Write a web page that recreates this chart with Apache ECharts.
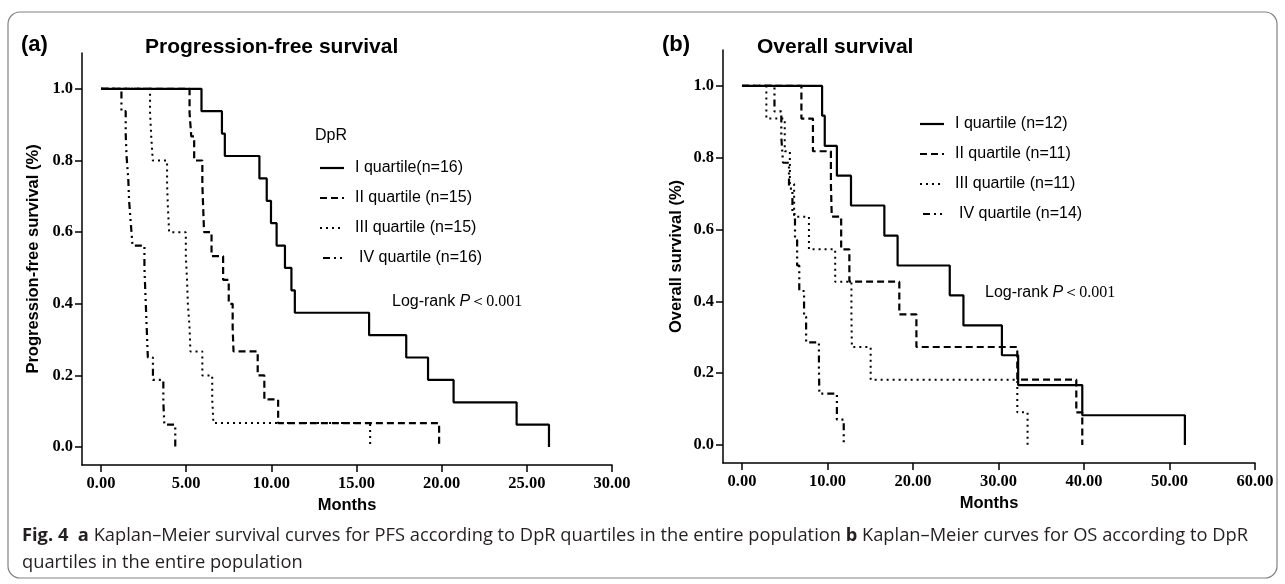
<!DOCTYPE html>
<html><head><meta charset="utf-8">
<script src="https://cdn.jsdelivr.net/npm/echarts@6/dist/echarts.min.js"></script>
<style>html,body{margin:0;padding:0;background:#fff}#c{width:1285px;height:584px}</style>
</head><body><div id="c"></div>
<script>
// ---------- tick labels ----------
const pfsTicks = [0, 5, 10, 15, 20, 25, 30];
const osTicks = [0, 10, 20, 30, 40, 50, 60];
const survTicks = [0, 0.2, 0.4, 0.6, 0.8, 1.0];

// ---------- legend labels ----------
const pfsLegend = ['I quartile(n=16)', 'II quartile (n=15)', 'III quartile (n=15)', 'IV quartile (n=16)'];
const osLegend = ['I quartile (n=12)', 'II quartile (n=11)', 'III quartile (n=11)', 'IV quartile (n=14)'];

// ---------- (a) Progression-free survival: event times (months) and survival ----------
const pfsQ1Time = [0, 5.9, 7.1, 7.27, 9.3, 9.73, 9.98, 10.31, 10.8, 11.18, 11.38, 15.74, 17.92, 19.2, 20.7, 24.4, 26.3];
const pfsQ1Surv = [1, 0.9375, 0.875, 0.8125, 0.75, 0.6875, 0.625, 0.5625, 0.5, 0.4375, 0.375, 0.3125, 0.25, 0.1875, 0.125, 0.0625, 0];
const pfsQ2Time = [0, 5.2, 5.3, 5.47, 5.95, 6.0, 6.05, 6.49, 7.17, 7.5, 7.73, 7.78, 9.2, 9.59, 10.4, 19.85];
const pfsQ2Surv = [1, 0.933, 0.867, 0.8, 0.733, 0.667, 0.6, 0.533, 0.467, 0.4, 0.333, 0.267, 0.2, 0.133, 0.067, 0];
const pfsQ3Time = [0, 2.88, 2.95, 3.04, 3.88, 3.93, 4.0, 4.98, 5.05, 5.1, 5.2, 5.25, 5.95, 6.53, 6.6, 15.8];
const pfsQ3Surv = [1, 0.933, 0.867, 0.8, 0.733, 0.667, 0.6, 0.533, 0.467, 0.4, 0.333, 0.267, 0.2, 0.133, 0.067, 0];
const pfsQ4Time = [0, 1.2, 1.45, 1.5, 1.6, 1.65, 1.75, 1.85, 2.55, 2.6, 2.65, 2.7, 2.75, 3.05, 3.66, 3.72, 4.36];
const pfsQ4Surv = [1, 0.9375, 0.875, 0.8125, 0.75, 0.6875, 0.625, 0.5625, 0.5, 0.4375, 0.375, 0.3125, 0.25, 0.1875, 0.125, 0.0625, 0];

// ---------- (b) Overall survival ----------
const osQ1Time = [0, 9.37, 9.68, 11.1, 12.75, 16.65, 18.2, 24.3, 25.9, 30.4, 32.3, 39.8, 51.8];
const osQ1Surv = [1, 0.917, 0.833, 0.75, 0.667, 0.583, 0.5, 0.417, 0.333, 0.25, 0.167, 0.083, 0];
const osQ2Time = [0, 6.95, 8.3, 10.4, 10.5, 11.6, 12.56, 18.4, 20.4, 32.2, 39.1, 39.8];
const osQ2Surv = [1, 0.909, 0.818, 0.727, 0.636, 0.545, 0.455, 0.364, 0.273, 0.182, 0.091, 0];
const osQ3Time = [0, 2.85, 5.0, 5.6, 6.1, 7.83, 10.9, 12.8, 12.85, 15.05, 32.2, 33.4];
const osQ3Surv = [1, 0.909, 0.818, 0.727, 0.636, 0.545, 0.455, 0.364, 0.273, 0.182, 0.091, 0];
const osQ4Time = [0, 3.8, 4.6, 4.8, 5.5, 5.9, 6.2, 6.45, 6.7, 7.26, 7.5, 9.0, 9.05, 11.1, 11.9];
const osQ4Surv = [1, 0.929, 0.857, 0.786, 0.714, 0.643, 0.571, 0.5, 0.429, 0.357, 0.286, 0.214, 0.143, 0.071, 0];

const lineDashes = [null, [7, 4], [2, 4], [7, 4, 2, 4, 2, 4]];
const lineWidths = [2.2, 2.2, 2, 2.2];

function zip(t, s) { return t.map((x, i) => [x, s[i]]); }

const pfsSeries = [[pfsQ1Time, pfsQ1Surv], [pfsQ2Time, pfsQ2Surv], [pfsQ3Time, pfsQ3Surv], [pfsQ4Time, pfsQ4Surv]];
const osSeries = [[osQ1Time, osQ1Surv], [osQ2Time, osQ2Surv], [osQ3Time, osQ3Surv], [osQ4Time, osQ4Surv]];

const series = [];
pfsSeries.forEach((d, i) => series.push({
  type: 'line', xAxisIndex: 0, yAxisIndex: 0, step: 'end', symbol: 'none', silent: true,
  data: zip(d[0], d[1]),
  lineStyle: { color: '#000', width: lineWidths[i], type: lineDashes[i] || 'solid', cap: 'butt' },
  z: 10 - i
}));
osSeries.forEach((d, i) => series.push({
  type: 'line', xAxisIndex: 1, yAxisIndex: 1, step: 'end', symbol: 'none', silent: true,
  data: zip(d[0], d[1]),
  lineStyle: { color: '#000', width: lineWidths[i], type: lineDashes[i] || 'solid', cap: 'butt' },
  z: 10 - i
}));

const tickFont = { fontFamily: 'Liberation Serif', fontWeight: 'bold', fontSize: 16.5, color: '#000' };
const nameFont = { fontFamily: 'Liberation Sans', fontWeight: 'bold', fontSize: 16.5, color: '#000' };

function xAxis(grid, min, max, ticks) {
  return {
    type: 'value', gridIndex: grid, min: min, max: max,
    axisLine: { show: true, onZero: false, lineStyle: { color: '#000', width: 1.5 } },
    axisTick: { show: true, length: 7, customValues: ticks, lineStyle: { color: '#000', width: 1.5 } },
    axisLabel: Object.assign({ customValues: ticks, margin: 10, formatter: v => v.toFixed(2) }, tickFont),
    splitLine: { show: false },
    name: 'Months', nameLocation: 'middle', nameGap: 32, nameTextStyle: nameFont
  };
}
function yAxis(grid, name, gap) {
  return {
    type: 'value', gridIndex: grid, min: -0.05, max: 1.1,
    axisLine: { show: true, onZero: false, lineStyle: { color: '#000', width: 1.5 } },
    axisTick: { show: true, length: 7, customValues: survTicks, lineStyle: { color: '#000', width: 1.5 } },
    axisLabel: Object.assign({ customValues: survTicks, margin: 9, formatter: v => v.toFixed(1) }, tickFont),
    splitLine: { show: false },
    name: name, nameLocation: 'middle', nameGap: gap, nameTextStyle: nameFont
  };
}

const graphics = [];
graphics.push({ type: 'rect', shape: { x: 8, y: 12, width: 1269, height: 566, r: 12 },
  style: { fill: 'none', stroke: '#808080', lineWidth: 1.2 }, silent: true });
function txt(x, y, text, font, align) {
  graphics.push({ type: 'text', x: x, y: y, silent: true,
    style: { text: text, font: font, fill: '#000', align: align || 'left', verticalAlign: 'middle' } });
}
txt(21, 45, '(a)', 'bold 22px "Liberation Sans"');
txt(145, 47, 'Progression-free survival', 'bold 21px "Liberation Sans"');
txt(662, 45, '(b)', 'bold 22px "Liberation Sans"');
txt(757, 47, 'Overall survival', 'bold 21px "Liberation Sans"');
txt(315, 136, 'DpR', '16px "Liberation Sans"');

function legendBlock(x1, x2, tx, y0, dy, labels) {
  labels.forEach((lab, i) => {
    const y = y0 + i * dy;
    graphics.push({ type: 'line', silent: true, shape: { x1: x1 + (i === 3 ? 3 : 0), y1: y, x2: x2, y2: y },
      style: { stroke: '#000', lineWidth: lineWidths[i], lineDash: lineDashes[i] } });
    txt(tx + (i === 3 ? 4 : 0), y, lab, '16px "Liberation Sans"');
  });
}
legendBlock(320, 344, 355, 168, 30, pfsLegend);
legendBlock(920, 944, 955, 124, 30, osLegend);

function logRank(x, y) {
  graphics.push({ type: 'text', x: x, y: y, silent: true, style: {
    text: '{a|Log-rank }{p|P}{b|＜0.001}', verticalAlign: 'middle', fill: '#000',
    rich: {
      a: { font: '16px "Liberation Sans"', fill: '#000' },
      p: { font: 'italic 16px "Liberation Sans"', fill: '#000' },
      b: { font: '16px "Liberation Serif"', fill: '#000' }
    } } });
}
logRank(392, 302);
logRank(985, 293);

graphics.push({ type: 'text', x: 22, y: 536, silent: true, style: {
  text: '{b|Fig. 4}  {b|a} Kaplan–Meier survival curves for PFS according to DpR quartiles in the entire population {b|b} Kaplan–Meier curves for OS according to DpR',
  font: '18.3px "Open Sans"', fill: '#231f20', verticalAlign: 'middle',
  rich: { b: { font: 'bold 18.3px "Open Sans"', fill: '#231f20' } } } });
graphics.push({ type: 'text', x: 22, y: 563, silent: true, style: {
  text: 'quartiles in the entire population', font: '18.3px "Open Sans"', fill: '#231f20', verticalAlign: 'middle' } });

const chart = echarts.init(document.getElementById('c'), null, { renderer: 'canvas' });
chart.setOption({
  animation: false,
  backgroundColor: '#fff',
  grid: [
    { left: 82, top: 53, width: 530, height: 412 },
    { left: 723, top: 50, width: 532, height: 413 }
  ],
  xAxis: [xAxis(0, -1.115, 30, pfsTicks), xAxis(1, -2.22, 60, osTicks)],
  yAxis: [yAxis(0, 'Progression-free survival (%)', 40), yAxis(1, 'Overall survival (%)', 38)],
  series: series,
  graphic: graphics
});
</script></body></html>
